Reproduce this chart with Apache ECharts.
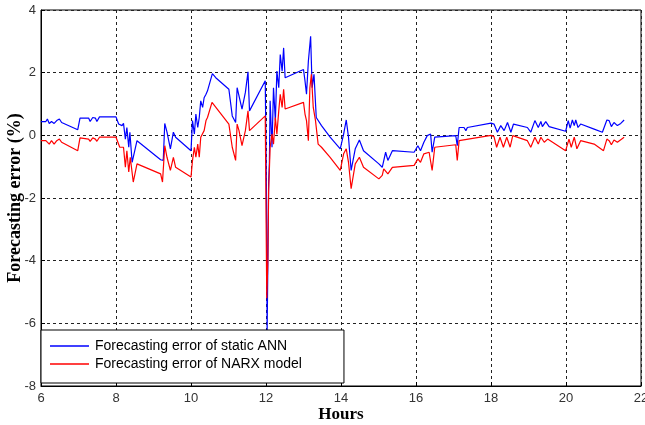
<!DOCTYPE html>
<html>
<head>
<meta charset="utf-8">
<script src="https://cdn.jsdelivr.net/npm/echarts@6/dist/echarts.min.js"></script>
<style>
html,body{margin:0;padding:0;background:#fff;}
#chart{width:645px;height:425px;}
</style>
</head>
<body>
<div id="chart"></div>
<script>
// Hours and forecasting error (%) of the static ANN
var annHours = [6.00,6.13,6.17,6.22,6.28,6.35,6.42,6.49,6.55,6.98,7.04,7.27,7.31,7.38,7.45,7.49,7.56,8.00,8.07,8.16,8.20,8.25,8.29,8.34,8.37,8.43,8.56,9.19,9.26,9.30,9.36,9.45,9.53,9.59,10.00,10.04,10.09,10.13,10.18,10.22,10.26,10.31,10.35,10.40,10.44,10.48,10.57,10.66,11.01,11.10,11.19,11.23,11.28,11.36,11.45,11.52,11.56,11.98,12.01,12.03,12.05,12.07,12.09,12.11,12.16,12.20,12.25,12.29,12.34,12.38,12.43,12.47,12.51,13.00,13.04,13.08,13.13,13.19,13.23,13.28,13.34,13.48,13.71,13.98,14.07,14.14,14.20,14.27,14.38,14.49,14.60,15.01,15.10,15.19,15.25,15.37,15.95,16.05,16.12,16.21,16.30,16.39,16.43,16.50,17.06,17.10,17.15,17.28,17.33,17.37,18.00,18.08,18.17,18.26,18.35,18.44,18.53,18.60,18.97,19.06,19.17,19.26,19.33,19.37,19.46,19.55,19.99,20.06,20.11,20.17,20.22,20.26,20.32,20.39,20.75,20.97,21.09,21.15,21.21,21.28,21.37,21.46,21.55];
var annError = [0.44,0.44,0.52,0.38,0.44,0.38,0.47,0.52,0.41,0.18,0.55,0.55,0.44,0.57,0.55,0.44,0.59,0.59,0.36,0.31,0.38,-0.12,0.25,-0.38,0.10,-0.86,-0.17,-0.78,-0.80,0.38,0.10,-0.43,0.10,-0.06,-0.49,0.47,0.04,0.68,0.25,0.57,1.10,0.89,1.20,1.31,1.42,1.37,1.97,1.84,1.47,0.62,0.41,1.52,1.58,0.84,1.37,2.03,0.78,1.74,-1.60,-6.30,-4.00,-1.50,-0.91,1.10,-0.38,1.52,0.47,2.05,1.52,2.58,2.05,2.79,1.84,2.10,1.74,1.31,2.37,3.16,1.52,1.95,0.57,0.31,-0.06,-0.43,0.04,0.49,-0.06,-1.12,-0.43,-0.15,-0.49,-0.91,-1.02,-0.54,-0.80,-0.49,-0.54,-0.33,-0.49,-0.22,-0.01,0.04,-0.54,-0.06,-0.01,-0.33,0.25,0.25,0.15,0.25,0.39,0.36,0.10,0.31,0.15,0.41,0.10,0.36,0.25,0.10,0.47,0.25,0.44,0.28,0.44,0.28,0.13,0.47,0.23,0.49,0.31,0.49,0.25,0.36,0.20,0.10,0.49,0.47,0.28,0.41,0.31,0.38,0.49];

// Hours and forecasting error (%) of the NARX model
var narxHours = [6.00,6.13,6.17,6.22,6.28,6.35,6.42,6.49,6.55,6.98,7.04,7.27,7.31,7.38,7.45,7.49,7.56,8.00,8.10,8.20,8.25,8.29,8.34,8.38,8.46,8.56,9.19,9.24,9.30,9.36,9.45,9.53,9.59,10.00,10.04,10.09,10.13,10.18,10.22,10.26,10.35,10.40,10.44,10.56,11.01,11.10,11.19,11.23,11.28,11.36,11.45,11.52,11.56,11.98,12.02,12.05,12.07,12.11,12.16,12.20,12.25,12.29,12.34,12.38,12.43,12.47,12.51,13.00,13.04,13.08,13.13,13.17,13.21,13.26,13.32,13.39,13.48,13.71,13.98,14.07,14.14,14.20,14.27,14.38,14.49,14.60,15.01,15.10,15.14,15.25,15.37,15.95,16.05,16.12,16.21,16.35,16.43,16.50,17.06,17.10,17.15,18.00,18.08,18.15,18.24,18.33,18.42,18.51,18.58,18.97,19.06,19.17,19.26,19.33,19.42,19.51,19.99,20.08,20.14,20.22,20.29,20.39,20.75,21.00,21.09,21.15,21.21,21.28,21.37,21.55];
var narxError = [-0.17,-0.17,-0.12,-0.28,-0.17,-0.28,-0.17,-0.12,-0.22,-0.49,-0.08,-0.12,-0.19,-0.08,-0.12,-0.19,-0.06,-0.06,-0.38,-0.38,-1.02,-0.49,-1.17,-0.70,-1.49,-0.91,-1.23,-1.49,-0.33,-0.70,-1.12,-0.70,-1.02,-1.33,-0.80,-0.38,-0.70,-0.28,-0.70,-0.06,0.15,0.47,0.57,1.05,0.36,-0.38,-0.80,0.36,0.15,-0.33,0.15,0.78,0.15,0.62,-5.20,-4.00,-1.80,-0.38,0.04,-0.28,0.57,0.04,0.78,1.31,0.89,1.47,0.84,1.05,0.68,0.47,-0.17,1.52,1.95,0.89,0.47,-0.28,-0.38,-0.70,-1.12,-0.59,-0.43,-0.86,-1.70,-0.91,-0.70,-1.02,-1.39,-1.28,-1.07,-1.23,-1.02,-0.96,-0.75,-0.86,-0.59,-0.54,-1.12,-0.38,-0.30,-0.80,-0.17,0.00,-0.04,-0.38,-0.06,-0.38,-0.06,-0.38,-0.01,-0.17,-0.38,-0.06,-0.28,-0.06,-0.22,-0.12,-0.49,-0.12,-0.38,-0.06,-0.43,-0.17,-0.28,-0.49,-0.12,-0.17,-0.30,-0.15,-0.22,-0.06];

var seriesNames = ['Forecasting error of static ANN', 'Forecasting error of NARX model'];
var xTitle = 'Hours';
var yTitle = 'Forecasting error (%)';

function pairs(xs, ys) {
  var out = [];
  for (var i = 0; i < xs.length; i++) out.push([xs[i], ys[i]]);
  return out;
}

var chart = echarts.init(document.getElementById('chart'), null, {renderer: 'canvas'});
var gridLine = {show: true, lineStyle: {color: '#222', type: [3, 3], width: 1}};
var labelStyle = {color: '#333', fontFamily: 'Liberation Sans, Arial, sans-serif', fontSize: 13};
chart.setOption({
  animation: false,
  backgroundColor: '#fff',
  grid: {left: 41, right: 4, top: 10, bottom: 39, containLabel: false, outerBoundsMode: 'none',
         show: true, borderColor: '#000', borderWidth: 1, backgroundColor: 'transparent'},
  xAxis: {
    type: 'value', min: 6, max: 22, interval: 2,
    name: xTitle, nameLocation: 'middle', nameGap: 20, nameMoveOverlap: false,
    nameTextStyle: {fontFamily: 'Liberation Serif, Times New Roman, serif', fontWeight: 'bold', fontSize: 17, color: '#000'},
    axisLine: {show: true, onZero: false, lineStyle: {color: '#000', width: 1}},
    axisTick: {show: true, inside: true, length: 4, lineStyle: {color: '#000'}},
    axisLabel: Object.assign({margin: 6}, labelStyle),
    splitLine: gridLine
  },
  yAxis: {
    type: 'value', min: -8, max: 4, interval: 2,
    name: yTitle, nameLocation: 'middle', nameGap: 17, nameMoveOverlap: false,
    nameTextStyle: {fontFamily: 'Liberation Serif, Times New Roman, serif', fontWeight: 'bold', fontSize: 18, color: '#000'},
    axisLine: {show: true, onZero: false, lineStyle: {color: '#000', width: 1}},
    axisTick: {show: true, inside: true, length: 4, lineStyle: {color: '#000'}},
    axisLabel: Object.assign({margin: 5}, labelStyle),
    splitLine: gridLine
  },
  legend: {
    left: 41, top: 330, orient: 'vertical',
    backgroundColor: '#fff', borderColor: '#000', borderWidth: 1, borderRadius: 0,
    padding: [9, 42, 12, 9], itemGap: 4, itemWidth: 39, itemHeight: 1.5,
    textStyle: {fontFamily: 'Liberation Sans, Arial, sans-serif', fontSize: 14, color: '#000', padding: [0, 0, 0, 1]},
    data: [
      {name: seriesNames[0], icon: 'rect'},
      {name: seriesNames[1], icon: 'rect'}
    ]
  },
  series: [
    {name: seriesNames[0], type: 'line', symbol: 'none', data: pairs(annHours, annError),
     lineStyle: {color: '#0000ff', width: 1.2}, itemStyle: {color: '#0000ff'}, z: 2},
    {name: seriesNames[1], type: 'line', symbol: 'none', data: pairs(narxHours, narxError),
     lineStyle: {color: '#ff0000', width: 1.2}, itemStyle: {color: '#ff0000'}, z: 3}
  ]
});
</script>
</body>
</html>
